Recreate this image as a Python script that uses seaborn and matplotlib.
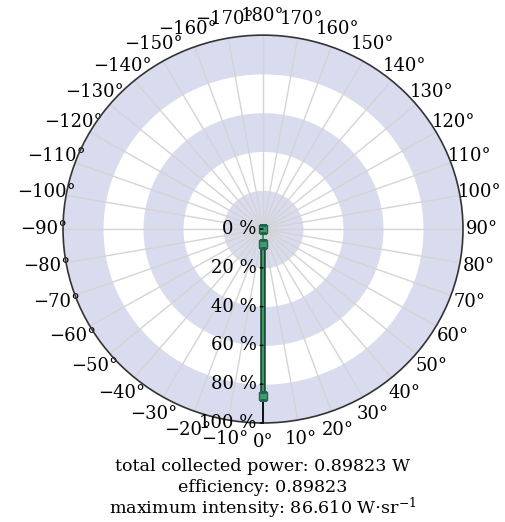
import numpy as np
import pandas as pd
import matplotlib.pyplot as plt
import seaborn as sns

# data
angle_deg = [0, 0, 0]
rel_radius = [0.0, 0.077, 0.86]
axis_r = [0.0, 1.0]
r_ticks = [0.0, 0.2, 0.4, 0.6, 0.8, 1.0]
r_ticklabels = ["0 %", "20 %", "40 %", "60 %", "80 %", "100 %"]
theta_ticks = list(range(0, 360, 10))
theta_labels = [t if t <= 180 else t - 360 for t in theta_ticks]
summary = ["total collected power: 0.89823 W",
           "efficiency: 0.89823",
           "maximum intensity: 86.610 W$\\cdot$sr$^{-1}$"]

sns.set_theme(style="white")
plt.rcParams['font.family'] = ['DejaVu Serif']
plt.rcParams['mathtext.fontset'] = 'dejavuserif'
plt.rcParams['axes.unicode_minus'] = True
plt.rcParams['text.color'] = 'black'

fig = plt.figure(figsize=(5.05, 5.22), dpi=100)
ax = fig.add_axes([0.1248, 0.1897, 0.792, 0.743], projection='polar')
ax.set_aspect('auto')
ax.set_theta_zero_location('S')
ax.set_theta_direction(1)

# shaded bands
band = "#d9dbee"
th = np.linspace(0, 2 * np.pi, 361)
for lo, hi in zip(r_ticks[0::2], r_ticks[1::2]):
    ax.fill_between(th, lo, hi, color=band, lw=0, zorder=0)

df_axis = pd.DataFrame({"theta": np.deg2rad([0, 0]), "r": axis_r})
sns.lineplot(data=df_axis, x="theta", y="r", ax=ax, color="black", lw=1.3,
             estimator=None, sort=False, zorder=3)
df = pd.DataFrame({"theta": np.deg2rad(angle_deg), "r": rel_radius})
sns.lineplot(data=df.iloc[1:], x="theta", y="r", ax=ax, color="#1b4a33", lw=4,
             estimator=None, sort=False, zorder=4)
sns.lineplot(data=df, x="theta", y="r", ax=ax, color="#3f9d66", lw=1.4,
             marker="s", markersize=6, markeredgecolor="#22605a", markeredgewidth=1,
             estimator=None, sort=False, zorder=5)
ax.set_xlabel("")
ax.set_ylabel("")

ax.set_xlim(0, 2 * np.pi)
ax.set_ylim(0, 1)
ax.set_xticks(np.deg2rad(theta_ticks))
ax.set_xticklabels([f"{t}°".replace("-", "\u2212") for t in theta_labels])
ax.set_yticks(r_ticks)
ax.set_yticklabels([])
ax.xaxis.grid(True, color="#d4d4d4", lw=1.0)
ax.yaxis.grid(False)
ax.tick_params(axis='x', labelsize=13, pad=7, length=4, direction='in',
               color='#333333', labelcolor='black')
ax.spines['polar'].set_color('#333333')
ax.spines['polar'].set_linewidth(1.2)

# radial labels on the left of the 0° line, with small ticks
for r, lab in zip(r_ticks, r_ticklabels):
    ax.annotate("", xy=(0, r), xytext=(-4, 0), textcoords="offset points",
                arrowprops=dict(arrowstyle="-", lw=1.0, color="black"), zorder=6)
    ax.annotate(lab, xy=(0, r), xytext=(-4.5, 0), textcoords="offset points",
                ha="right", va="center", fontsize=13, color="black", zorder=6)

for i, line in enumerate(summary):
    fig.text(0.52, 0.107 - 0.04 * i, line, ha="center", va="center",
             fontsize=12.6, color="black")

plt.savefig("out.png", dpi=100)
